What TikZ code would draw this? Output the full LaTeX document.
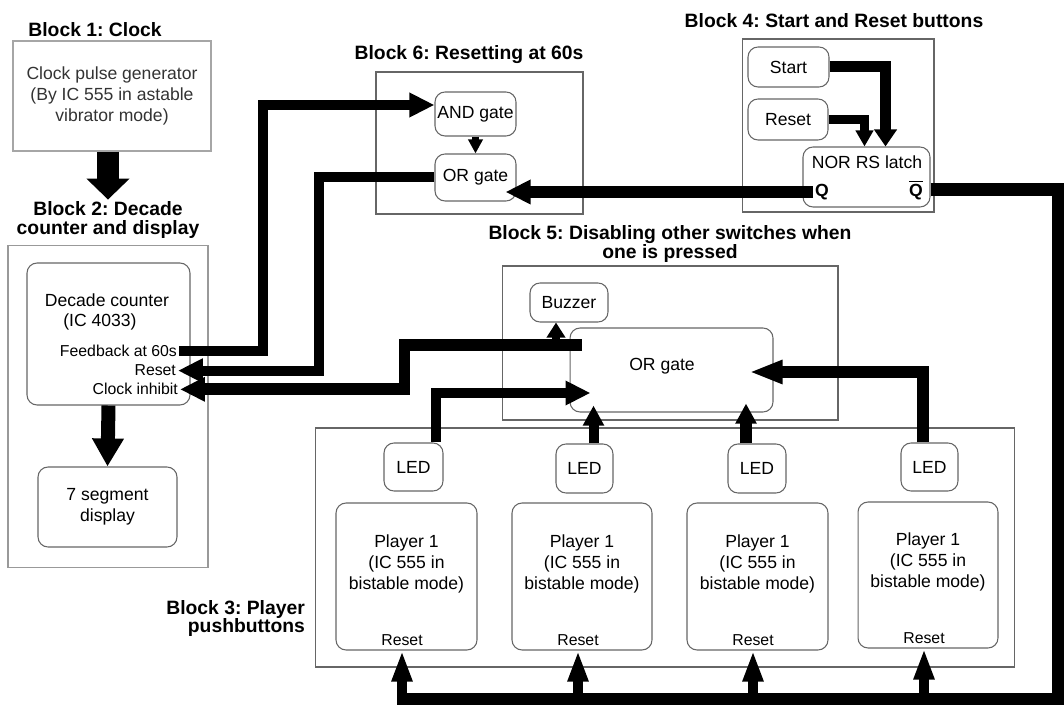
\documentclass[tikz,border=0pt]{standalone}
\usepackage{fontspec}
\setmainfont{Liberation Sans}
\usetikzlibrary{arrows.meta, calc, positioning}
\frenchspacing

\begin{document}
\begin{tikzpicture}[x=0.02cm, y=-0.02cm,
    blk/.style={draw=black!60, line width=0.6pt},
    rbox/.style={draw=black!60, rounded corners=0.2cm, line width=0.6pt, align=center, inner sep=1pt, font=\fontsize{10}{12}\selectfont},
    blktitle/.style={font=\bfseries\fontsize{11}{10.6}\selectfont, inner sep=1pt, align=center},
    txt/.style={font=\fontsize{10}{12}\selectfont, inner sep=1pt, align=center},
    lbl/.style={font=\fontsize{9}{11}\selectfont, inner sep=1pt},
    wire/.style={line width=0.2cm, -{Triangle[length=0.5cm,width=0.46cm]}}]
  \useasboundingbox (0,0) rectangle (1064,705);
  % Block 1
  \node[blktitle, anchor=base] (t1) at (95,37) {Block 1: Clock};
  \node[blk, draw=black!35, txt, text=black!80, minimum width=3.96cm, minimum height=2.2cm] (clk) at (112,96) {Clock pulse generator\\(By IC 555 in astable\\vibrator mode)};
  % Block 2
  \node[blktitle] (t2) at (108,220) {Block 2: Decade\\counter and display};
  \node[blk, draw=black!40, minimum width=4cm, minimum height=6.46cm] (blk2) at (108,406.5) {};
  \node[rbox, minimum width=3.26cm, minimum height=2.84cm] (dec) at (108.5,334) {};
  \node[txt, anchor=base] (dec1) at (107,307) {Decade counter};
  \node[txt, anchor=base] (dec2) at (100,327) {(IC 4033)};
  \node[lbl, anchor=base east] (fb) at (179,357) {Feedback at 60s};
  \node[lbl, anchor=base east] (rs) at (178,376) {Reset};
  \node[lbl, anchor=base east] (ci) at (180,395) {Clock inhibit};
  \node[rbox, minimum width=2.78cm, minimum height=1.6cm] (seg) at (107.5,507) {7 segment\\display};
  % Block 6
  \node[blktitle, anchor=base] (t6) at (469,60) {Block 6: Resetting at 60s};
  \node[blk, minimum width=4.14cm, minimum height=2.84cm] (blk6) at (479.5,143) {};
  \node[rbox, minimum width=1.62cm, minimum height=0.88cm] (andg) at (475.5,114) {AND gate};
  \node[rbox, minimum width=1.62cm, minimum height=0.94cm] (or6) at (475.5,177.5) {OR gate};
  % Block 4
  \node[blktitle, anchor=base] (t4) at (834,28) {Block 4: Start and Reset buttons};
  \node[blk, minimum width=3.84cm, minimum height=3.46cm] (blk4) at (838,125.5) {};
  \node[rbox, minimum width=1.62cm, minimum height=0.8cm] (start) at (788.5,67) {Start};
  \node[rbox, minimum width=1.6cm, minimum height=0.82cm] (rst4) at (788,119.5) {Reset};
  \node[rbox, minimum width=2.54cm, minimum height=1.2cm] (latch) at (866.5,177) {};
  \node[txt] (latchtxt) at (867,162) {NOR RS latch};
  \node[txt, font=\bfseries\fontsize{10}{12}\selectfont] (q) at (822,192) {Q};
  \node[txt, font=\bfseries\fontsize{10}{12}\selectfont] (qb) at (916,190) {$\overline{\mbox{Q}}$};
  % Block 5
  \node[blktitle] (t5) at (670,244) {Block 5: Disabling other switches when\\one is pressed};
  \node[blk, minimum width=6.72cm, minimum height=3.08cm] (blk5) at (670,343) {};
  \node[rbox, minimum width=1.56cm, minimum height=0.78cm] (buzzer) at (569,302.5) {Buzzer};
  \node[rbox, minimum width=4.06cm, minimum height=1.68cm] (or5) at (671.5,370) {};
  \node[txt] (or5txt) at (662,366) {OR gate};
  % Block 3
  \node[blktitle, anchor=east, align=right] (t3) at (307,618.5) {Block 3: Player\\pushbuttons};
  \node[blk, minimum width=14cm, minimum height=4.78cm] (blk3) at (665,547.5) {};
  \node[rbox, minimum width=1.18cm, minimum height=0.96cm] (led1) at (413.5,467) {LED};
  \node[rbox, minimum width=1.14cm, minimum height=0.98cm] (led2) at (584.5,468.5) {LED};
  \node[rbox, minimum width=1.16cm, minimum height=0.98cm] (led3) at (757,468.5) {LED};
  \node[rbox, minimum width=1.14cm, minimum height=0.96cm] (led4) at (929.5,467) {LED};
  \node[rbox, minimum width=2.82cm, minimum height=2.94cm] (p1) at (406.5,576.5) {};
  \node[rbox, minimum width=2.8cm, minimum height=2.94cm] (p2) at (582,576.5) {};
  \node[rbox, minimum width=2.82cm, minimum height=2.94cm] (p3) at (757.5,576.5) {};
  \node[rbox, minimum width=2.8cm, minimum height=2.92cm] (p4) at (928,575) {};
  \node[txt] (pt1) at (406.5,564) {Player 1\\(IC 555 in\\bistable mode)};
  \node[txt] (pt2) at (582,564) {Player 1\\(IC 555 in\\bistable mode)};
  \node[txt] (pt3) at (757.5,564) {Player 1\\(IC 555 in\\bistable mode)};
  \node[txt] (pt4) at (928,562) {Player 1\\(IC 555 in\\bistable mode)};
  \node[lbl] (r1) at (402,640) {Reset};
  \node[lbl] (r2) at (578,640) {Reset};
  \node[lbl] (r3) at (753,640) {Reset};
  \node[lbl] (r4) at (924,638) {Reset};

  % Clock into counter, counter into display
  \draw[line width=0.44cm, -{Triangle[length=0.42cm,width=0.84cm]}] (clk.south -| t2.north) -- (t2.north);
  \draw[line width=0.28cm, -{Triangle[length=0.56cm,width=0.6cm]}] (dec.south) -- (seg.north);
  % Resetting at 60s
  \draw[wire] (fb.east) -- ++(84,0) |- ($(andg.west)+(0,-9)$);
  \draw[line width=0.14cm, -{Triangle[length=0.28cm,width=0.28cm]}] (andg.south) -- (or6.north);
  \draw[wire] (or6.west) -- ++(-115,0) |- (rs.east);
  % Start and reset latch
  \draw[wire, line width=0.22cm, -{Triangle[length=0.34cm,width=0.44cm]}] (start.east) -| ($(latch.north)+(19,0)$);
  \draw[wire, line width=0.18cm, -{Triangle[length=0.32cm,width=0.34cm]}] (rst4.east) -| ($(latch.north)+(-2,0)$);
  \draw[wire, line width=0.24cm] (q.west) -- ($(or6.east |- q.west)+(-11,0)$);
  % Qbar bus to player resets
  \coordinate (bus) at (1058,699);
  \draw[line width=0.26cm] (latch.east |- qb) -| (bus) -- ($(r1 |- bus)+(-5,0)$);
  \draw[wire, -{Triangle[length=0.62cm,width=0.38cm]}] (r1 |- bus) -- (r1 |- p1.south);
  \draw[wire, -{Triangle[length=0.62cm,width=0.38cm]}] (r2 |- bus) -- (r2 |- p2.south);
  \draw[wire, -{Triangle[length=0.62cm,width=0.38cm]}] (r3 |- bus) -- (r3 |- p3.south);
  \draw[wire, -{Triangle[length=0.62cm,width=0.38cm]}] (r4 |- bus) -- (r4 |- p4.south);
  % LEDs into OR gate
  \coordinate (l1) at ($(led1.north)+(22,0)$);
  \coordinate (l2) at ($(led2.north)+(9,0)$);
  \coordinate (l3) at ($(led3.north)+(-11,0)$);
  \coordinate (l4) at ($(led4.north)+(-7,0)$);
  \draw[wire] (l1) |- ($(or5.west)+(21,23)$);
  \draw[wire, -{Triangle[length=0.4cm,width=0.4cm]}] (l2) -- ($(l2 |- or5.south)+(0,-7)$);
  \draw[wire, line width=0.24cm, -{Triangle[length=0.4cm,width=0.4cm]}] (l3) -- ($(l3 |- or5.south)+(0,-9)$);
  \draw[wire, line width=0.24cm, -{Triangle[length=0.66cm,width=0.44cm]}] (l4) |- ($(or5.east)+(-24,2)$);
  % OR gate out: buzzer and clock inhibit
  \coordinate (orout) at ($(or5.north west)+(12,18)$);
  \coordinate (bz) at ($(buzzer.south)+(-13,0)$);
  \draw[wire, line width=0.24cm] (orout) -- ++(-177,0) |- (ci.east);
  \draw[line width=0.16cm, -{Triangle[length=0.3cm,width=0.36cm]}] (bz |- orout) -- (bz);
\end{tikzpicture}
\end{document}
